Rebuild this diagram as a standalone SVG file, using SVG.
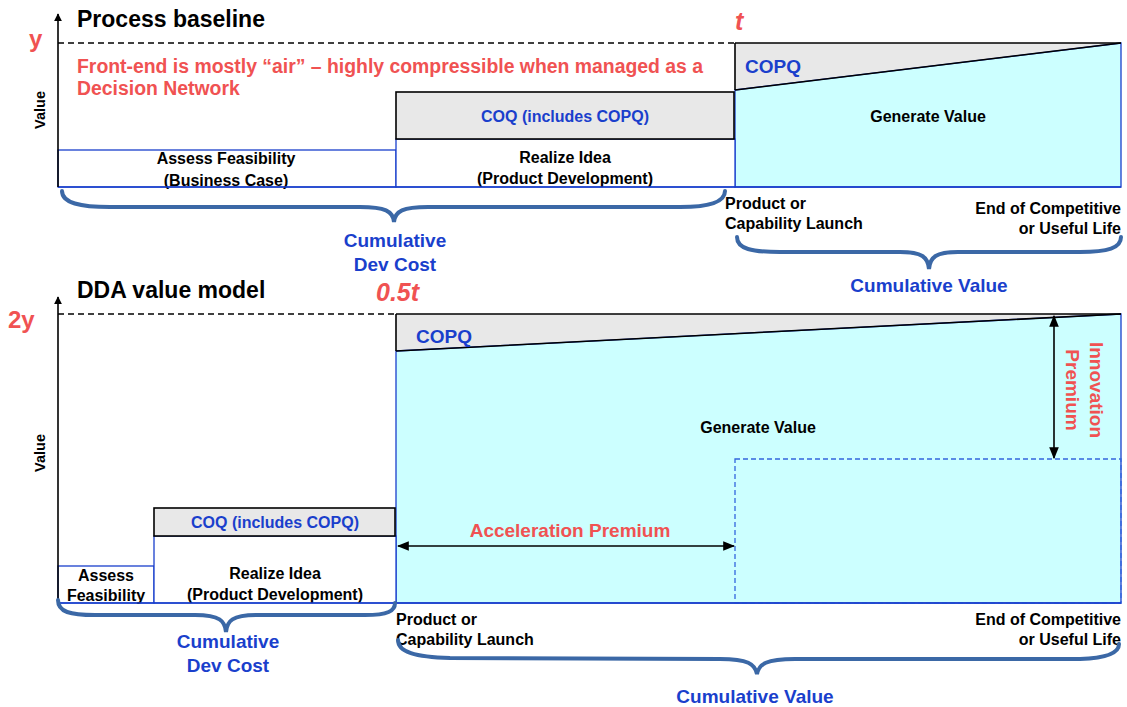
<svg xmlns="http://www.w3.org/2000/svg" width="1127" height="707" viewBox="0 0 1127 707">
  <style>
    text { font-family: "Liberation Sans", Arial, sans-serif; font-weight: bold; }
    .title { font-size: 23px; fill: #000; }
    .red { fill: #f05252; }
    .blue { fill: #1a3fcc; }
    .lbl { font-size: 16px; fill: #000; }
    .big { font-size: 19px; }
    .note { font-size: 19.4px; }
    .axis { stroke: #000; stroke-width: 1.6; fill: none; }
    .dash { stroke: #000; stroke-width: 1.4; stroke-dasharray: 6 4; fill: none; }
    .bbox { fill: #fff; stroke: #1a3fcc; stroke-width: 1.3; }
    .gray { fill: #e8e8e8; stroke: #000; stroke-width: 1.6; }
    .cyan { fill: #ccffff; stroke: #1a3fcc; stroke-width: 1.3; }
    .brace { fill: none; stroke: #3b68a6; stroke-width: 4; stroke-linecap: round; }
    .arr { stroke: #000; stroke-width: 1.6; fill: none; }
  </style>
  <defs>
    <marker id="ah" viewBox="0 0 10 10" refX="9" refY="5" markerWidth="8" markerHeight="8" markerUnits="userSpaceOnUse" orient="auto-start-reverse">
      <path d="M0,0 L10,5 L0,10 z" fill="#000"/>
    </marker>
    <marker id="ah2" viewBox="0 0 10 10" refX="9" refY="5" markerWidth="12" markerHeight="12" markerUnits="userSpaceOnUse" orient="auto-start-reverse">
      <path d="M0,1 L10,5 L0,9 z" fill="#000"/>
    </marker>
  </defs>

  <!-- ===== Process baseline ===== -->
  <g id="baseline">
    <g id="baseline-value-area">
      <polygon points="735,43 1121,43 735,90" fill="#e8e8e8" stroke="none"/>
      <polygon points="735,90 1121,43 1121,187 735,187" class="cyan"/>
      <line x1="735" y1="43" x2="1121" y2="43" stroke="#000" stroke-width="1.6"/>
      <line x1="735" y1="90" x2="1121" y2="43" stroke="#000" stroke-width="1.6"/>
      <line x1="735" y1="43" x2="735" y2="90" stroke="#000" stroke-width="1.6"/>
      <text x="745" y="73" class="blue big">COPQ</text>
      <text x="928" y="122" class="lbl" text-anchor="middle">Generate Value</text>
    </g>
    <g id="baseline-assess">
      <rect x="58" y="150" width="338" height="37" class="bbox"/>
      <text x="226" y="164" class="lbl" text-anchor="middle">Assess Feasibility</text>
      <text x="226" y="186" class="lbl" text-anchor="middle">(Business Case)</text>
    </g>
    <g id="baseline-realize">
      <rect x="396" y="139" width="339" height="48" class="bbox"/>
      <rect x="396" y="92" width="338" height="47" class="gray"/>
      <text x="565" y="122" class="blue" font-size="16" text-anchor="middle">COQ (includes COPQ)</text>
      <text x="565" y="163" class="lbl" text-anchor="middle">Realize Idea</text>
      <text x="565" y="184" class="lbl" text-anchor="middle">(Product Development)</text>
    </g>
    <line x1="58" y1="187" x2="1121" y2="187" stroke="#1a3fcc" stroke-width="1.3"/>
    <line x1="58" y1="43" x2="735" y2="43" class="dash"/>
    <line x1="58" y1="187" x2="58" y2="14" class="axis" marker-end="url(#ah)"/>
    <text x="77" y="27" class="title">Process baseline</text>
    <text x="29" y="47" class="red" font-size="24">y</text>
    <text x="735" y="30" class="red" font-size="25" font-style="italic">t</text>
    <text x="77" y="73" class="red note">Front-end is mostly “air” – highly compressible when managed as a</text>
    <text x="77" y="95" class="red note">Decision Network</text>
    <text transform="translate(45,110) rotate(-90)" font-size="14.5" text-anchor="middle">Value</text>
    <text x="725" y="209" class="lbl">Product or</text>
    <text x="725" y="229" class="lbl">Capability Launch</text>
    <text x="1121" y="214" class="lbl" text-anchor="end">End of Competitive</text>
    <text x="1121" y="234" class="lbl" text-anchor="end">or Useful Life</text>
    <text x="395" y="247" class="blue big" text-anchor="middle">Cumulative</text>
    <text x="395" y="271" class="blue big" text-anchor="middle">Dev Cost</text>
    <text x="929" y="292" class="blue big" text-anchor="middle">Cumulative Value</text>
  </g>

  <!-- ===== DDA value model ===== -->
  <g id="dda">
    <g id="dda-value-area">
      <polygon points="396,314 1121,314 396,351" fill="#e8e8e8" stroke="none"/>
      <polygon points="396,351 1121,314 1121,603 396,603" class="cyan"/>
      <line x1="396" y1="314" x2="1121" y2="314" stroke="#000" stroke-width="1.6"/>
      <line x1="396" y1="351" x2="1121" y2="314" stroke="#000" stroke-width="1.6"/>
      <line x1="396" y1="314" x2="396" y2="351" stroke="#000" stroke-width="1.6"/>
      <rect x="735" y="459" width="386" height="144" fill="none" stroke="#3366dd" stroke-width="1.3" stroke-dasharray="5 3"/>
      <text x="416" y="343" class="blue big">COPQ</text>
      <text x="758" y="433" class="lbl" text-anchor="middle">Generate Value</text>
    </g>
    <g id="dda-assess">
      <rect x="58" y="566" width="96" height="37" class="bbox"/>
      <text x="106" y="581" class="lbl" text-anchor="middle">Assess</text>
      <text x="106" y="601" class="lbl" text-anchor="middle">Feasibility</text>
    </g>
    <g id="dda-realize">
      <rect x="154" y="536" width="242" height="67" class="bbox"/>
      <rect x="154" y="508" width="241" height="28" class="gray"/>
      <text x="275" y="528" class="blue" font-size="16" text-anchor="middle">COQ (includes COPQ)</text>
      <text x="275" y="579" class="lbl" text-anchor="middle">Realize Idea</text>
      <text x="275" y="600" class="lbl" text-anchor="middle">(Product Development)</text>
    </g>
    <line x1="58" y1="603" x2="1121" y2="603" stroke="#1a3fcc" stroke-width="1.3"/>
    <line x1="58" y1="314" x2="396" y2="314" class="dash"/>
    <line x1="58" y1="603" x2="58" y2="297" class="axis" marker-end="url(#ah)"/>
    <text x="77" y="298" class="title">DDA value model</text>
    <text x="8" y="328" class="red" font-size="24">2y</text>
    <text x="376" y="301" class="red" font-size="25" font-style="italic">0.5t</text>
    <text transform="translate(45,453) rotate(-90)" font-size="14.5" text-anchor="middle">Value</text>
    <text x="570" y="537" class="red big" text-anchor="middle">Acceleration Premium</text>
    <text transform="translate(1090,390) rotate(90)" class="red big" text-anchor="middle">Innovation</text>
    <text transform="translate(1066,390) rotate(90)" class="red big" text-anchor="middle">Premium</text>
    <text x="396" y="625" class="lbl">Product or</text>
    <text x="396" y="645" class="lbl">Capability Launch</text>
    <text x="1121" y="625" class="lbl" text-anchor="end">End of Competitive</text>
    <text x="1121" y="645" class="lbl" text-anchor="end">or Useful Life</text>
    <text x="228" y="648" class="blue big" text-anchor="middle">Cumulative</text>
    <text x="228" y="672" class="blue big" text-anchor="middle">Dev Cost</text>
    <text x="755" y="703" class="blue big" text-anchor="middle">Cumulative Value</text>
  </g>

  <!-- connectors: braces and dimension arrows -->
  <g id="connectors">
    <path class="brace" d="M62,191 C62,203 80,207 110,207 L360,207 C385,207 393,211 394,222 C395,211 403,207 428,207 L680,207 C710,207 725,202 725,191"/>
    <path class="brace" d="M737,237 C737,249 752,252 780,252 L900,252 C922,252 928,257 929,269 C930,257 936,252 958,252 L1080,252 C1108,252 1121,248 1121,237"/>
    <path class="brace" d="M58,600 C58,612 70,615 95,615 L195,615 C220,615 225,621 226,632 C227,621 232,615 257,615 L365,615 C388,615 395,611 395,603"/>
    <path class="brace" d="M398,640 C398,652 415,657 450,658 L720,659 C748,659 755,664 757,674 C759,664 766,659 795,659 L1080,659 C1110,658 1119,652 1119,644"/>
    <line x1="398" y1="546" x2="734" y2="546" class="arr" marker-start="url(#ah2)" marker-end="url(#ah2)"/>
    <line x1="1054" y1="316" x2="1054" y2="458" class="arr" marker-start="url(#ah2)" marker-end="url(#ah2)"/>
  </g>
</svg>
